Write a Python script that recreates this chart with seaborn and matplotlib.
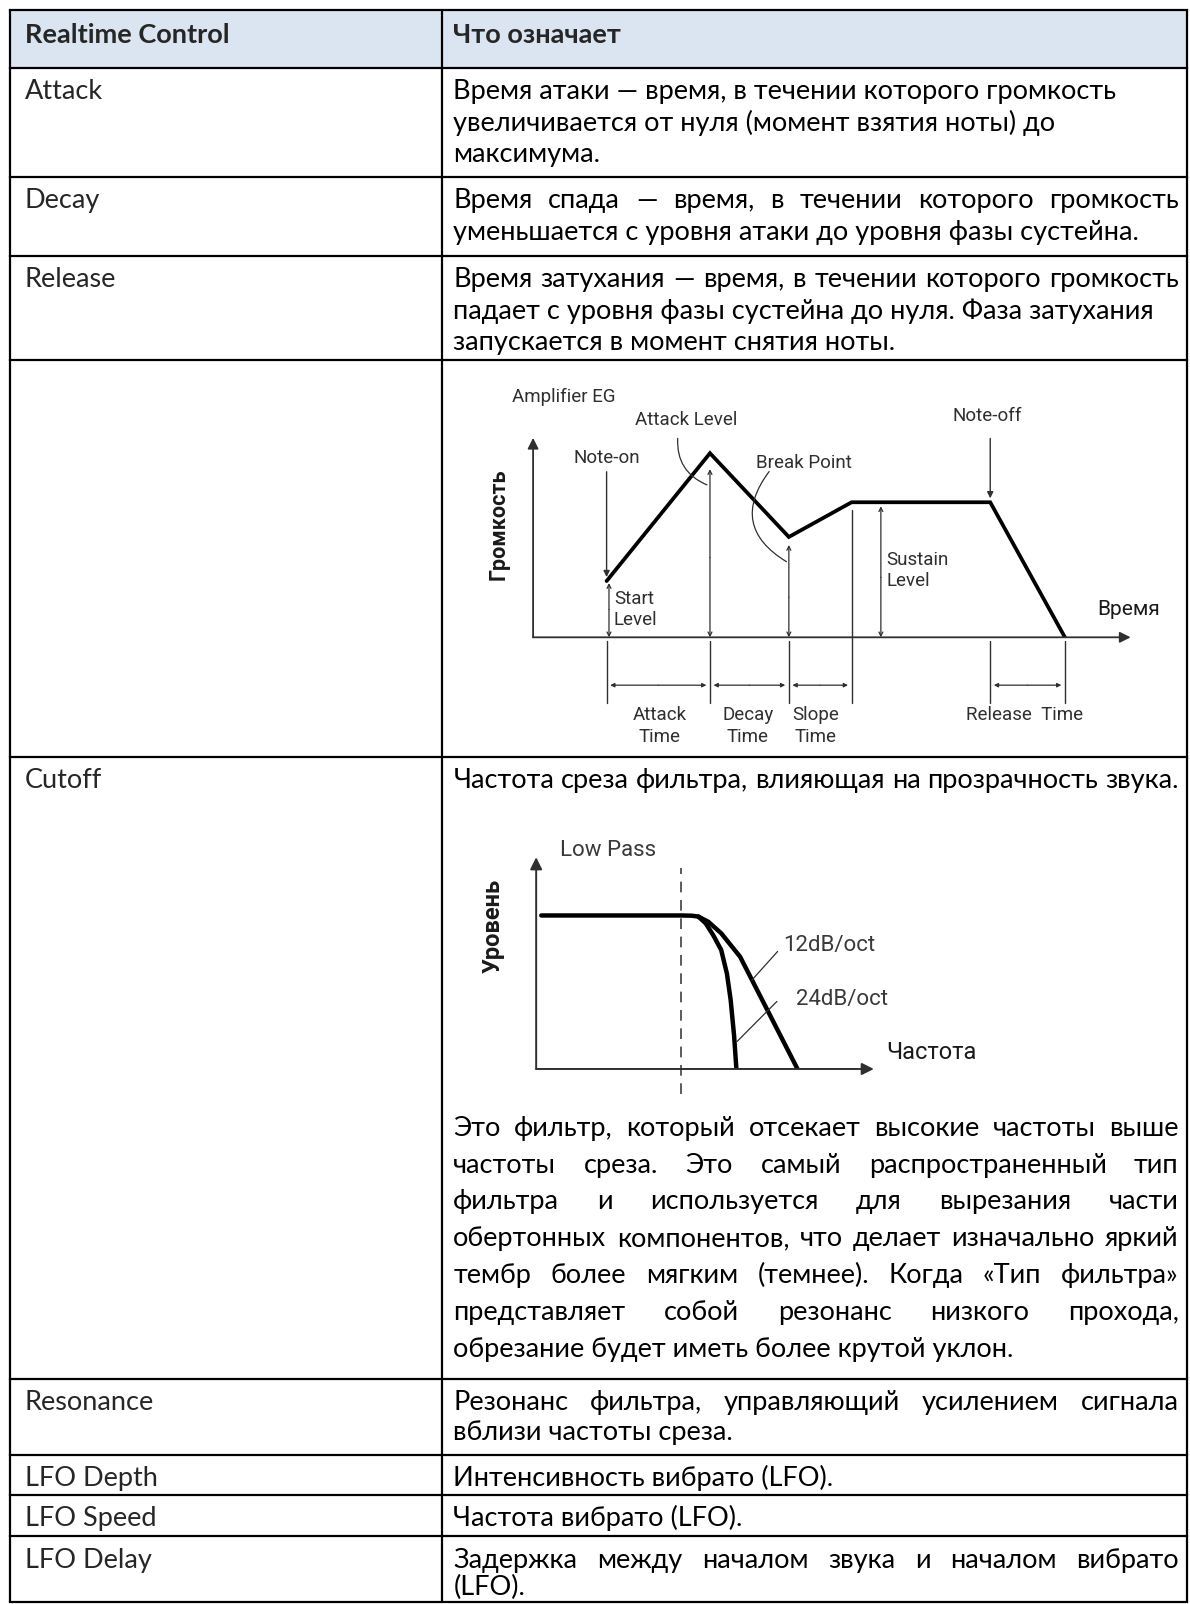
import pandas as pd
import seaborn as sns
import matplotlib.pyplot as plt
from matplotlib.patches import Rectangle

# figure is laid out in units of the reference thumbnail (1163 x 1568)
UW, UH = 1163, 1568
FIG_W, FIG_H = 1190, 1604

header = ["Realtime Control", "Что означает"]
controls = ["Attack", "Decay", "Release", "", "Cutoff",
            "Resonance", "LFO Depth", "LFO Speed", "LFO Delay"]
meanings = [
    ["Время атаки — время, в течении которого громкость",
     "увеличивается от нуля (момент взятия ноты) до",
     "максимума."],
    ["Время спада — время, в течении которого громкость",
     "уменьшается с уровня атаки до уровня фазы сустейна."],
    ["Время затухания — время, в течении которого громкость",
     "падает с уровня фазы сустейна до нуля. Фаза затухания",
     "запускается в момент снятия ноты."],
    [],
    ["Частота среза фильтра, влияющая на прозрачность звука."],
    ["Резонанс фильтра, управляющий усилением сигнала",
     "вблизи частоты среза."],
    ["Интенсивность вибрато (LFO)."],
    ["Частота вибрато (LFO)."],
    ["Задержка между началом звука и началом вибрато",
     "(LFO)."],
]
justified = [
    [False, False, False],
    [True, False],
    [True, False, False],
    [],
    [True],
    [True, False],
    [False],
    [False],
    [True, False],
]
cutoff_note = [
    "Это фильтр, который отсекает высокие частоты выше",
    "частоты среза. Это самый распространенный тип",
    "фильтра и используется для вырезания части",
    "обертонных компонентов, что делает изначально яркий",
    "тембр более мягким (темнее). Когда «Тип фильтра»",
    "представляет собой резонанс низкого прохода,",
    "обрезание будет иметь более крутой уклон.",
]

# amplifier envelope (time / level, diagram units 0..100)
env_time = [12.3, 29.6, 42.8, 53.3, 76.5, 89.0]
env_level = [28.2, 92.3, 50.3, 67.7, 67.7, 0.0]
sustain_level_time = 58.2

# low pass filter response (frequency / level, diagram units 0..100)
cutoff_freq = 43.0
lp12_freq = [1.5, 43.0, 46.0, 48.0, 51.0, 54.8, 60.4, 77.4]
lp12_level = [72.5, 72.5, 72.4, 72.0, 69.5, 64.1, 53.0, 0.0]
lp24_freq = [48.0, 50.2, 52.5, 54.8, 56.5, 57.6, 58.6, 59.3]
lp24_level = [72.0, 68.8, 63.0, 56.2, 45.0, 32.6, 16.0, 0.0]

TEXT_FONT = ['Lato', 'DejaVu Sans']
DIAG_FONT = ['Roboto', 'DejaVu Sans']
DIAG_COLOR = '#2f2f2f'


def fig_rect(x0, y0, x1, y1):
    return [x0 / UW, 1 - y1 / UH, (x1 - x0) / UW, (y1 - y0) / UH]


def main():
    sns.set_theme(style="white")
    plt.rcParams['font.family'] = TEXT_FONT

    fig = plt.figure(figsize=(FIG_W / 100, FIG_H / 100), dpi=100)
    ax = fig.add_axes([0, 0, 1, 1])
    ax.set_xlim(0, UW)
    ax.set_ylim(UH, 0)
    ax.axis('off')
    renderer = fig.canvas.get_renderer()
    unit = FIG_W / UW

    def measure(s, size, weight='normal'):
        t = ax.text(0, 0, s, fontsize=size, family=TEXT_FONT, weight=weight)
        w = t.get_window_extent(renderer).width
        t.remove()
        return w / unit

    size = 10 * 650 / measure(meanings[0][0], 10)

    def put_line(s, x0, x1, y, just, weight='normal'):
        if not just:
            ax.text(x0, y, s, fontsize=size, family=TEXT_FONT, weight=weight,
                    ha='left', va='center', color='black')
            return
        words = s.split(' ')
        widths = [measure(w, size) for w in words]
        gap = (x1 - x0 - sum(widths)) / (len(words) - 1)
        x = x0
        for w, wd in zip(words, widths):
            ax.text(x, y, w, fontsize=size, family=TEXT_FONT, ha='left',
                    va='center', color='black')
            x += wd + gap

    # table grid
    left, mid, right = 10, 432, 1160
    row_edges = [10, 66, 173, 250, 352, 740, 1348, 1422, 1461, 1502, 1566]
    line_gap = [31, 31, 31, 31, 31, 29, 31, 31, 27]
    ax.add_patch(Rectangle((left, row_edges[0]), right - left,
                           row_edges[1] - row_edges[0],
                           facecolor='#dbe5f1', edgecolor='none'))
    for y in row_edges:
        ax.plot([left, right], [y, y], color='black', lw=1.6,
                solid_capstyle='projecting')
    for x in [left, mid, right]:
        ax.plot([x, x], [row_edges[0], row_edges[-1]], color='black', lw=1.6)

    ax.text(24, 34, header[0], fontsize=size, weight='bold', va='center')
    ax.text(443, 34, header[1], fontsize=size, weight='bold', va='center')

    x0, x1 = 443, 1152
    for i, name in enumerate(controls):
        top = row_edges[i + 1]
        ax.text(24, top + 23, name, fontsize=size, va='center')
        for k, (line, just) in enumerate(zip(meanings[i], justified[i])):
            put_line(line, x0, x1, top + 23 + line_gap[i] * k, just)

    # cutoff note under the filter picture
    for k, line in enumerate(cutoff_note):
        put_line(line, x0, x1, 1103 + 36 * k, k < len(cutoff_note) - 1)

    # ---- amplifier EG diagram
    ax_env = fig.add_axes(fig_rect(521, 428, 1105, 623))
    ax_env.set_xlim(0, 100)
    ax_env.set_ylim(0, 100)
    ax_env.axis('off')
    env = pd.DataFrame({'time': env_time, 'level': env_level})
    sns.lineplot(data=env, x='time', y='level', sort=False, ax=ax_env,
                 color='black', lw=2.7, solid_joinstyle='miter')

    def arrow(a, xy_from, xy_to, style='-|>', lw=1.0, ms=10, rad=0.0):
        a.annotate('', xy=xy_to, xytext=xy_from, annotation_clip=False,
                   arrowprops=dict(arrowstyle=style, lw=lw, color=DIAG_COLOR,
                                   mutation_scale=ms, shrinkA=0, shrinkB=0,
                                   connectionstyle=f'arc3,rad={rad}'))

    def vline(a, x, y0, y1, lw=1.0):
        a.plot([x, x], [y0, y1], color=DIAG_COLOR, lw=lw, clip_on=False)

    arrow(ax_env, (0, 0), (100, 0), lw=1.3, ms=16)
    arrow(ax_env, (0, 0), (0, 100), lw=1.3, ms=16)

    t_on, t_peak, t_break, t_sus, t_off, t_end = env_time
    for t in [t_on, t_peak, t_break, t_off, t_end]:
        vline(ax_env, t, -2, -33)
    vline(ax_env, t_sus, env_level[3] - 4, -33)

    # level arrows
    for t, top, mid_l in [(t_on + 0.4, env_level[0] - 1, 14),
                          (t_peak, env_level[1] - 8, 40),
                          (t_break, env_level[2] - 4, 20),
                          (sustain_level_time, env_level[3] - 2, 30)]:
        arrow(ax_env, (t, mid_l), (t, top), style='->', lw=0.9, ms=7)
        arrow(ax_env, (t, mid_l), (t, 0), style='->', lw=0.9, ms=7)

    # note-on / note-off markers
    arrow(ax_env, (t_on, 83), (t_on, env_level[0] + 2), lw=1.0, ms=9)
    arrow(ax_env, (t_off, 99.7), (t_off, env_level[4] + 2), lw=1.0, ms=9)

    # curved leaders
    arrow(ax_env, (24.2, 99.7), (29.1, 76.4), style='-', lw=0.9, rad=0.35)
    arrow(ax_env, (39.5, 83.1), (42.4, 37.9), style='-', lw=0.9, rad=0.55)

    # time spans
    for a, b in [(t_on, t_peak), (t_peak, t_break), (t_break, t_sus), (t_off, t_end)]:
        arrow(ax_env, ((a + b) / 2, -24), (a + 0.6, -24), style='-|>', lw=0.9, ms=6)
        arrow(ax_env, ((a + b) / 2, -24), (b - 0.6, -24), style='-|>', lw=0.9, ms=6)

    dkw = dict(family=DIAG_FONT, color=DIAG_COLOR, fontsize=13.5, va='center')
    ax.text(551, 388, "Amplifier EG", ha='center', **dkw)
    ax.text(671, 411, "Attack Level", ha='center', **dkw)
    ax.text(593, 448, "Note-on", ha='center', **dkw)
    ax.text(786, 453, "Break Point", ha='center', **dkw)
    ax.text(965, 407, "Note-off", ha='center', **dkw)
    ax.text(866, 547, "Sustain", ha='left', **dkw)
    ax.text(866, 568, "Level", ha='left', **dkw)
    ax.text(600, 586, "Start", ha='left', **dkw)
    ax.text(600, 606, "Level", ha='left', **dkw)
    ax.text(645, 699, "Attack", ha='center', **dkw)
    ax.text(645, 720, "Time", ha='center', **dkw)
    ax.text(731, 699, "Decay", ha='center', **dkw)
    ax.text(731, 720, "Time", ha='center', **dkw)
    ax.text(797, 699, "Slope", ha='center', **dkw)
    ax.text(797, 720, "Time", ha='center', **dkw)
    ax.text(1001, 699, "Release  Time", ha='center', **dkw)
    ax.text(1103, 596, "Время", ha='center', family=DIAG_FONT, color='#1a1a1a',
            fontsize=15, va='center')
    ax.text(487, 512, "Громкость", ha='center', va='center', rotation=90,
            family=DIAG_FONT, color='#1a1a1a', fontsize=15.5, weight='bold')

    # ---- low pass filter diagram
    ax_lp = fig.add_axes(fig_rect(524, 838, 854, 1045))
    ax_lp.set_xlim(0, 100)
    ax_lp.set_ylim(0, 100)
    ax_lp.axis('off')
    lp = pd.concat([
        pd.DataFrame({'freq': lp12_freq, 'level': lp12_level, 'slope': '12dB/oct'}),
        pd.DataFrame({'freq': lp24_freq, 'level': lp24_level, 'slope': '24dB/oct'}),
    ])
    sns.lineplot(data=lp, x='freq', y='level', units='slope', estimator=None,
                 sort=False, ax=ax_lp, color='black', lw=3.2)
    arrow(ax_lp, (0, 0), (100, 0), lw=1.4, ms=18)
    arrow(ax_lp, (0, 0), (0, 100), lw=1.4, ms=18)
    ax_lp.plot([cutoff_freq, cutoff_freq], [-12, 95], color=DIAG_COLOR, lw=1.1,
               ls=(0, (7, 5)), clip_on=False)
    ax_lp.plot([71.5, 63.9], [55.5, 42.0], color=DIAG_COLOR, lw=0.9, clip_on=False)
    ax_lp.plot([71.3, 59.5], [31.9, 13.0], color=DIAG_COLOR, lw=0.9, clip_on=False)

    fkw = dict(family=DIAG_FONT, color='#3a3a3a', fontsize=16, va='center')
    ax.text(594, 831, "Low Pass", ha='center', **fkw)
    ax.text(810, 924, "12dB/oct", ha='center', **fkw)
    ax.text(823, 977, "24dB/oct", ha='center', **fkw)
    ax.text(910, 1029, "Частота", ha='center', family=DIAG_FONT, color='#1a1a1a',
            fontsize=17, va='center')
    ax.text(482, 905, "Уровень", ha='center', va='center', rotation=90,
            family=DIAG_FONT, color='#1a1a1a', fontsize=17, weight='bold')

    fig.savefig('out.png', dpi=100)


main()
